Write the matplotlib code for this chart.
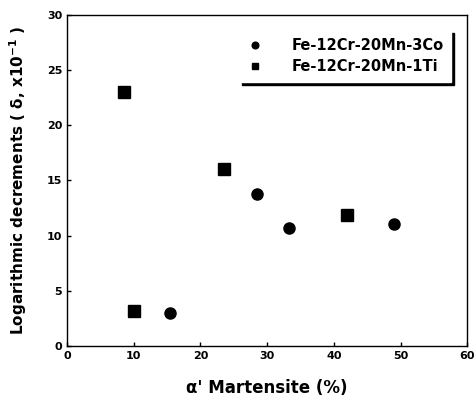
import matplotlib
matplotlib.use("Agg")
import matplotlib.pyplot as plt

plt.rcParams['font.family'] = ['DejaVu Sans']
plt.rcParams['font.weight'] = 'bold'

# alpha' martensite content (%) vs logarithmic decrement (x10^-1)
co_x = [15.5, 28.5, 33.3, 49.0]
co_y = [3.0, 13.8, 10.7, 11.1]
ti_x = [8.5, 10.0, 23.5, 42.0]
ti_y = [23.0, 3.2, 16.0, 11.9]

co_label = "Fe-12Cr-20Mn-3Co"
ti_label = "Fe-12Cr-20Mn-1Ti"
xticks = [0, 10, 20, 30, 40, 50, 60]
yticks = [0, 5, 10, 15, 20, 25, 30]

fig = plt.figure(figsize=(4.75, 4.01), dpi=100)
ax = fig.add_axes([0.141, 0.137, 0.843, 0.826])

ax.plot(co_x, co_y, 'o', color='black', markersize=8, label=co_label)
ax.plot(ti_x, ti_y, 's', color='black', markersize=8, label=ti_label)

ax.set_xlim(0, 60)
ax.set_ylim(0, 30)
ax.set_xticks(xticks)
ax.set_yticks(yticks)
ax.tick_params(direction='in', length=3, width=1, labelsize=8,
               top=False, right=False)

for sp in ax.spines.values():
    sp.set_linestyle((0, (1.5, 1)))
    sp.set_linewidth(1.0)

ax.set_xlabel("\u03b1' Martensite (%)", fontsize=12, fontweight='bold', labelpad=13)
ax.set_ylabel("Logarithmic decrements ( \u03b4, x10$^{-1}$ )", fontsize=11,
              fontweight='bold', labelpad=13)

leg = ax.legend(loc='upper right', bbox_to_anchor=(0.96, 0.955),
                borderaxespad=0, fancybox=False, frameon=True,
                shadow={'color': 'black', 'alpha': 1},
                markerscale=0.6, handlelength=1.0, handletextpad=2.0,
                fontsize=10.5, borderpad=0.55, labelspacing=0.45)
leg.get_frame().set_edgecolor('white')
leg.get_frame().set_facecolor('white')
for t in leg.get_texts():
    t.set_fontweight('bold')

fig.savefig("out.png", dpi=100)
